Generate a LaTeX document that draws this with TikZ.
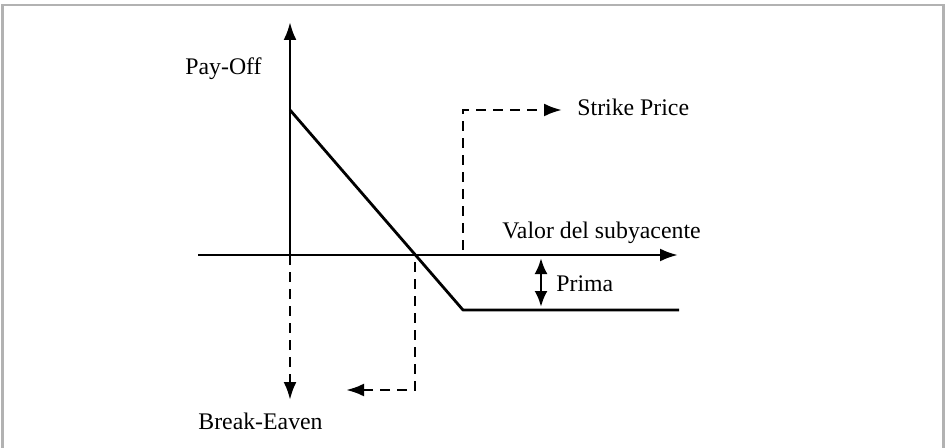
\documentclass[tikz,border=0pt]{standalone}
\usepackage{fontspec}
\setmainfont{Liberation Serif}
\usetikzlibrary{arrows.meta}
\usetikzlibrary{positioning}
\tikzset{tip/.style = {-{Latex[length=9pt, width=6.5pt]}},
         dtip/.style = {{Latex[length=8pt, width=6.5pt]}-{Latex[length=8pt, width=6.5pt]}},
         solid line/.style = {line width=1.4pt},
         guide/.style = {line width=1.4pt, dash pattern=on 5pt off 3.5pt},
         lbl/.style = {font=\fontsize{11.9}{14}\selectfont, inner sep=0pt, anchor=base west}}

\begin{document}
\begin{tikzpicture}[x=0.5pt, y=-0.5pt]
      \useasboundingbox (0, 0) rectangle (945, 448);
      \draw [gray!60, line width=1.2pt] (2.5, 448) -- (2.5, 5.3) -- (943.5, 5.3) -- (943.5, 448);

      % axes
      \coordinate (xleft) at (198, 255);
      \coordinate (xright) at (678, 255);
      \coordinate (ybottom) at (290, 265);
      \coordinate (ytop) at (290, 22);
      \draw [solid line, tip] (xleft) -- (xright);
      \draw [solid line, tip] (ybottom) -- (ytop);
      \node [lbl] (payoff) at (185, 75) {Pay-Off};
      \node [lbl] (subyacente) at (502, 239) {Valor del subyacente};

      % pay-off of the put
      \coordinate (p0) at (290, 110);
      \coordinate (kink) at (463, 310);
      \coordinate (p1) at (679, 310);
      \draw [solid line, line join=round] (p0) -- (kink) -- (p1);

      % strike price
      \coordinate (kfoot) at (463, 250);
      \coordinate (ktip) at (562, 110);
      \draw [guide, tip] (kfoot) |- (ktip);
      \node [lbl] (strike) at (577, 116) {Strike Price};

      % prima
      \coordinate (ptop) at (541, 258);
      \coordinate (pbot) at (541, 307);
      \draw [solid line, dtip] (ptop) -- (pbot);
      \node [lbl] (prima) at (556, 291) {Prima};

      % break-even
      \coordinate (bstart) at (290, 272);
      \coordinate (btip) at (290, 400);
      \draw [guide, tip] (bstart) -- (btip);
      \coordinate (estart) at (415, 262);
      \coordinate (etip) at (346, 390);
      \draw [guide, tip] (estart) |- (etip);
      \node [lbl] (breakeven) at (198, 429) {Break-Eaven};
\end{tikzpicture}
\end{document}
